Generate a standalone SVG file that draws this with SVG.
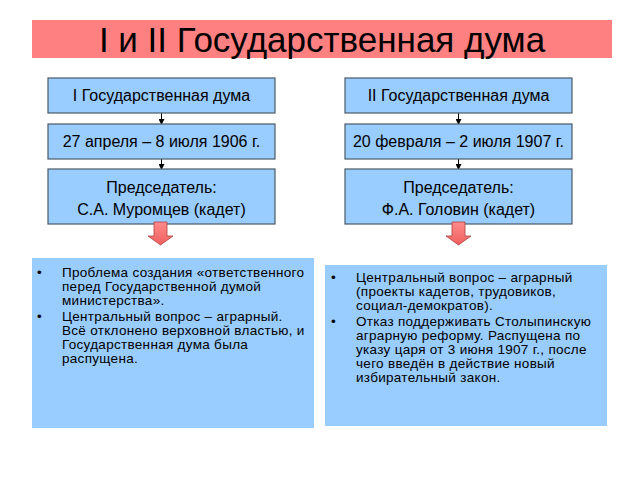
<svg xmlns="http://www.w3.org/2000/svg" width="640" height="480" viewBox="0 0 640 480">
<defs>
<style>
.box{fill:#99ccff;stroke:#4d5a66;stroke-width:1.2}
.tb{fill:#99ccff}
.t{font-family:"Liberation Sans",Arial,sans-serif;fill:#000}
.bt{font-size:16px;text-anchor:middle}
.lt{font-size:13.5px;letter-spacing:0.3px}
.con{stroke:#000;stroke-width:1;fill:none}
.blk{stroke:#b04040;stroke-width:0.8}
</style>
<marker id="ah" markerWidth="6" markerHeight="6" refX="5" refY="3" orient="auto" markerUnits="userSpaceOnUse">
<path d="M0,0 L6,3 L0,6 Z" fill="#000"/>
</marker>
<linearGradient id="bg" x1="0" y1="0" x2="0" y2="1">
<stop offset="0" stop-color="#ff8a8a"/>
<stop offset="1" stop-color="#f06060"/>
</linearGradient>
</defs>
<rect width="640" height="480" fill="#fff"/>
<g id="title">
<rect x="32" y="20" width="580" height="38" fill="#ff8080"/>
<text class="t" x="322" y="52" font-size="35" text-anchor="middle">I и II Государственная дума</text>
</g>
<g id="connectors">
<line class="con" x1="161.5" y1="113" x2="161.5" y2="124" marker-end="url(#ah)"/>
<line class="con" x1="161.5" y1="159" x2="161.5" y2="169" marker-end="url(#ah)"/>
<line class="con" x1="458.5" y1="113" x2="458.5" y2="124" marker-end="url(#ah)"/>
<line class="con" x1="458.5" y1="159" x2="458.5" y2="169" marker-end="url(#ah)"/>
</g>
<g id="left1"><rect class="box" x="48" y="78" width="227" height="35"/><text class="t bt" x="161.5" y="101">I Государственная дума</text></g>
<g id="left2"><rect class="box" x="48" y="124" width="227" height="35"/><text class="t bt" x="161.5" y="147">27 апреля – 8 июля 1906 г.</text></g>
<g id="left3"><rect class="box" x="48" y="169" width="227" height="55"/><text class="t bt" x="161.5" y="193">Председатель:</text><text class="t bt" x="161.5" y="215">С.А. Муромцев (кадет)</text></g>
<g id="right1"><rect class="box" x="345" y="78" width="227" height="35"/><text class="t bt" x="458.5" y="101">II Государственная дума</text></g>
<g id="right2"><rect class="box" x="345" y="124" width="227" height="35"/><text class="t bt" x="458.5" y="147">20 февраля – 2 июля 1907 г.</text></g>
<g id="right3"><rect class="box" x="345" y="169" width="227" height="55"/><text class="t bt" x="458.5" y="193">Председатель:</text><text class="t bt" x="458.5" y="215">Ф.А. Головин (кадет)</text></g>
<g id="arrowL"><path class="blk" fill="url(#bg)" d="M154,222 L167,222 L167,236 L173,236 L160.5,245 L148,236 L154,236 Z"/></g>
<g id="arrowR"><path class="blk" fill="url(#bg)" d="M452,222 L465,222 L465,236 L471,236 L458.5,245 L446,236 L452,236 Z"/></g>
<g id="textL">
<rect class="tb" x="32" y="258" width="282" height="170"/>
<text class="t lt">
<tspan x="37" y="277">•</tspan><tspan x="62" y="277">Проблема создания «ответственного</tspan>
<tspan x="62" y="291">перед Государственной думой</tspan>
<tspan x="62" y="305">министерства».</tspan>
<tspan x="37" y="321">•</tspan><tspan x="62" y="321">Центральный вопрос – аграрный.</tspan>
<tspan x="62" y="335">Всё отклонено верховной властью, и</tspan>
<tspan x="62" y="349">Государственная дума была</tspan>
<tspan x="62" y="363">распущена.</tspan>
</text>
</g>
<g id="textR">
<rect class="tb" x="325" y="265" width="282" height="161"/>
<text class="t lt">
<tspan x="331" y="282">•</tspan><tspan x="356" y="282">Центральный вопрос – аграрный</tspan>
<tspan x="356" y="296">(проекты кадетов, трудовиков,</tspan>
<tspan x="356" y="310">социал-демократов).</tspan>
<tspan x="331" y="326">•</tspan><tspan x="356" y="326">Отказ поддерживать Столыпинскую</tspan>
<tspan x="356" y="340">аграрную реформу. Распущена по</tspan>
<tspan x="356" y="354">указу царя от 3 июня 1907 г., после</tspan>
<tspan x="356" y="368">чего введён в действие новый</tspan>
<tspan x="356" y="382">избирательный закон.</tspan>
</text>
</g>
</svg>
